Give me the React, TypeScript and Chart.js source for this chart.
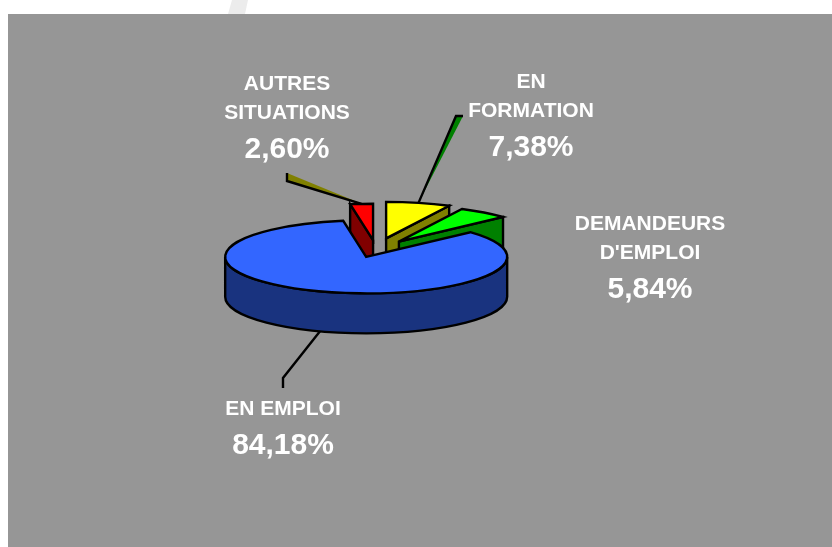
import React, { useEffect, useRef } from "react";
import { Chart, registerables } from "chart.js";

Chart.register(...registerables);

// ---- data ----
const categories = ["EN FORMATION", "DEMANDEURS D'EMPLOI", "EN EMPLOI", "AUTRES SITUATIONS"];
const labelLines = [["EN", "FORMATION"], ["DEMANDEURS", "D'EMPLOI"], ["EN EMPLOI"], ["AUTRES", "SITUATIONS"]];
const shares = [7.38, 5.84, 84.18, 2.6];

// ---- styles ----
const topColors = ["#FFFF00", "#00FF00", "#3366FF", "#FF0000"];
const sideColors = ["#808000", "#008000", "#19337F", "#800000"];
const explodeOffsets = [44, 38, 30, 36];

const W = 832;
const H = 547;
const TILT = 0.259;
const DEPTH = 40;
const BG = "#969696";
const FONT = '"Liberation Sans", Arial, sans-serif';
const NAME_SIZE = 21;
const PCT_SIZE = 30;
const LINE_W = 2.4;

// label layout (page pixels): centre x, centre y of first line
const labelPos = [
  { x: 531, y: 80 },
  { x: 650, y: 222 },
  { x: 283, y: 407 },
  { x: 287, y: 82 },
];
const leaders: ({ pts: number[][]; fill: string | null } | null)[] = [
  { pts: [[456, 116], [463, 116]], fill: "#008000" },
  null,
  { pts: [[283, 378], [283, 388]], fill: null },
  { pts: [[287, 181], [287, 173]], fill: "#808000" },
];

const fmt = (v: number) => v.toFixed(2).replace(".", ",") + "%";

function sliceGeom(chart: any) {
  const meta = chart.getDatasetMeta(0);
  return meta.data.map((arc: any, i: number) => {
    const s = arc.startAngle;
    const e = arc.endAngle;
    const mid = (s + e) / 2;
    const off = (arc.options && arc.options.offset) || 0;
    return {
      i,
      s,
      e,
      mid,
      r: arc.outerRadius,
      cx: arc.x + off * Math.cos(mid),
      cy: arc.y + off * TILT * Math.sin(mid),
    };
  });
}

const pie3d = {
  id: "pie3d",
  beforeDraw(chart: any) {
    const ctx = chart.ctx;
    ctx.save();
    ctx.fillStyle = "#ffffff";
    ctx.fillRect(0, 0, W, H);
    ctx.fillStyle = "#ececec";
    ctx.beginPath();
    ctx.moveTo(232, 0);
    ctx.lineTo(248, 0);
    ctx.lineTo(245, 14);
    ctx.lineTo(228, 14);
    ctx.closePath();
    ctx.fill();
    ctx.fillStyle = BG;
    ctx.fillRect(8, 14, W - 8, H - 14);
    ctx.restore();
  },
  beforeDatasetsDraw(chart: any) {
    const ctx = chart.ctx;
    const slices = sliceGeom(chart).slice();
    slices.sort((a: any, b: any) => Math.sin(a.mid) - Math.sin(b.mid));
    ctx.save();
    ctx.lineWidth = LINE_W;
    ctx.strokeStyle = "#000";
    ctx.lineJoin = "miter";
    ctx.miterLimit = 4;
    for (const sl of slices) {
      const { cx, cy, r, s, e, i } = sl;
      const ry = r * TILT;
      const side = sideColors[i];
      const wall = (a: number) => {
        const px = cx + r * Math.cos(a);
        const py = cy + ry * Math.sin(a);
        ctx.beginPath();
        ctx.moveTo(cx, cy);
        ctx.lineTo(px, py);
        ctx.lineTo(px, py + DEPTH);
        ctx.lineTo(cx, cy + DEPTH);
        ctx.closePath();
        ctx.fillStyle = side;
        ctx.fill();
        ctx.stroke();
      };
      if (Math.cos(s) < -0.001) wall(s);
      if (Math.cos(e) > 0.001) wall(e);
      for (let k = -1; k <= 1; k++) {
        const lo = Math.max(s, 2 * Math.PI * k);
        const hi = Math.min(e, 2 * Math.PI * k + Math.PI);
        if (hi > lo + 1e-4) {
          ctx.beginPath();
          ctx.ellipse(cx, cy, r, ry, 0, lo, hi, false);
          ctx.ellipse(cx, cy + DEPTH, r, ry, 0, hi, lo, true);
          ctx.closePath();
          ctx.fillStyle = side;
          ctx.fill();
          ctx.stroke();
        }
      }
      ctx.beginPath();
      ctx.moveTo(cx, cy);
      ctx.ellipse(cx, cy, r, ry, 0, s, e, false);
      ctx.closePath();
      ctx.fillStyle = topColors[i];
      ctx.fill();
      ctx.stroke();
    }
    ctx.restore();
    return false;
  },
  afterDraw(chart: any) {
    const ctx = chart.ctx;
    const slices = sliceGeom(chart);
    ctx.save();
    slices.forEach((sl: any) => {
      const ld = leaders[sl.i];
      if (!ld) return;
      const front = Math.sin(sl.mid) > 0;
      const sx = sl.cx + sl.r * Math.cos(sl.mid);
      const sy = sl.cy + sl.r * TILT * Math.sin(sl.mid) + (front ? DEPTH : 0);
      if (ld.fill) {
        ctx.beginPath();
        ctx.moveTo(sx, sy);
        ld.pts.forEach((p) => ctx.lineTo(p[0], p[1]));
        ctx.closePath();
        ctx.fillStyle = ld.fill;
        ctx.fill();
      }
      ctx.beginPath();
      ctx.moveTo(sx, sy);
      ld.pts.forEach((p) => ctx.lineTo(p[0], p[1]));
      ctx.strokeStyle = "#000";
      ctx.lineWidth = LINE_W;
      ctx.lineJoin = "miter";
      ctx.stroke();
    });
    ctx.fillStyle = "#ffffff";
    ctx.textAlign = "center";
    ctx.textBaseline = "alphabetic";
    slices.forEach((sl: any) => {
      const pos = labelPos[sl.i];
      const lines = labelLines[sl.i];
      let y = pos.y;
      ctx.font = `bold ${NAME_SIZE}px ${FONT}`;
      lines.forEach((t: string, j: number) => {
        if (j > 0) y += 29;
        ctx.fillText(t, pos.x, y + 0.358 * NAME_SIZE);
      });
      y += 36;
      ctx.font = `bold ${PCT_SIZE}px ${FONT}`;
      ctx.fillText(fmt(shares[sl.i]), pos.x, y + 0.358 * PCT_SIZE);
    });
    ctx.restore();
  },
};

export default function App() {
  const ref = useRef<HTMLCanvasElement | null>(null);
  useEffect(() => {
    if (!ref.current) return;
    const chart = new Chart(ref.current, {
      type: "pie",
      data: {
        labels: categories,
        datasets: [
          {
            data: shares,
            backgroundColor: topColors,
            borderColor: "#000",
            borderWidth: 2,
            offset: explodeOffsets,
          } as any,
        ],
      },
      options: {
        responsive: false,
        animation: false,
        radius: 141,
        rotation: 0,
        events: [],
        layout: { padding: { left: 0, right: 80, top: 0, bottom: 48 } },
        plugins: { legend: { display: false }, tooltip: { enabled: false } },
      } as any,
      plugins: [pie3d as any],
    });
    return () => chart.destroy();
  }, []);
  return (
    <canvas
      ref={ref}
      width={W}
      height={H}
      style={{ position: "fixed", left: 0, top: 0, width: W, height: H, display: "block" }}
    />
  );
}
